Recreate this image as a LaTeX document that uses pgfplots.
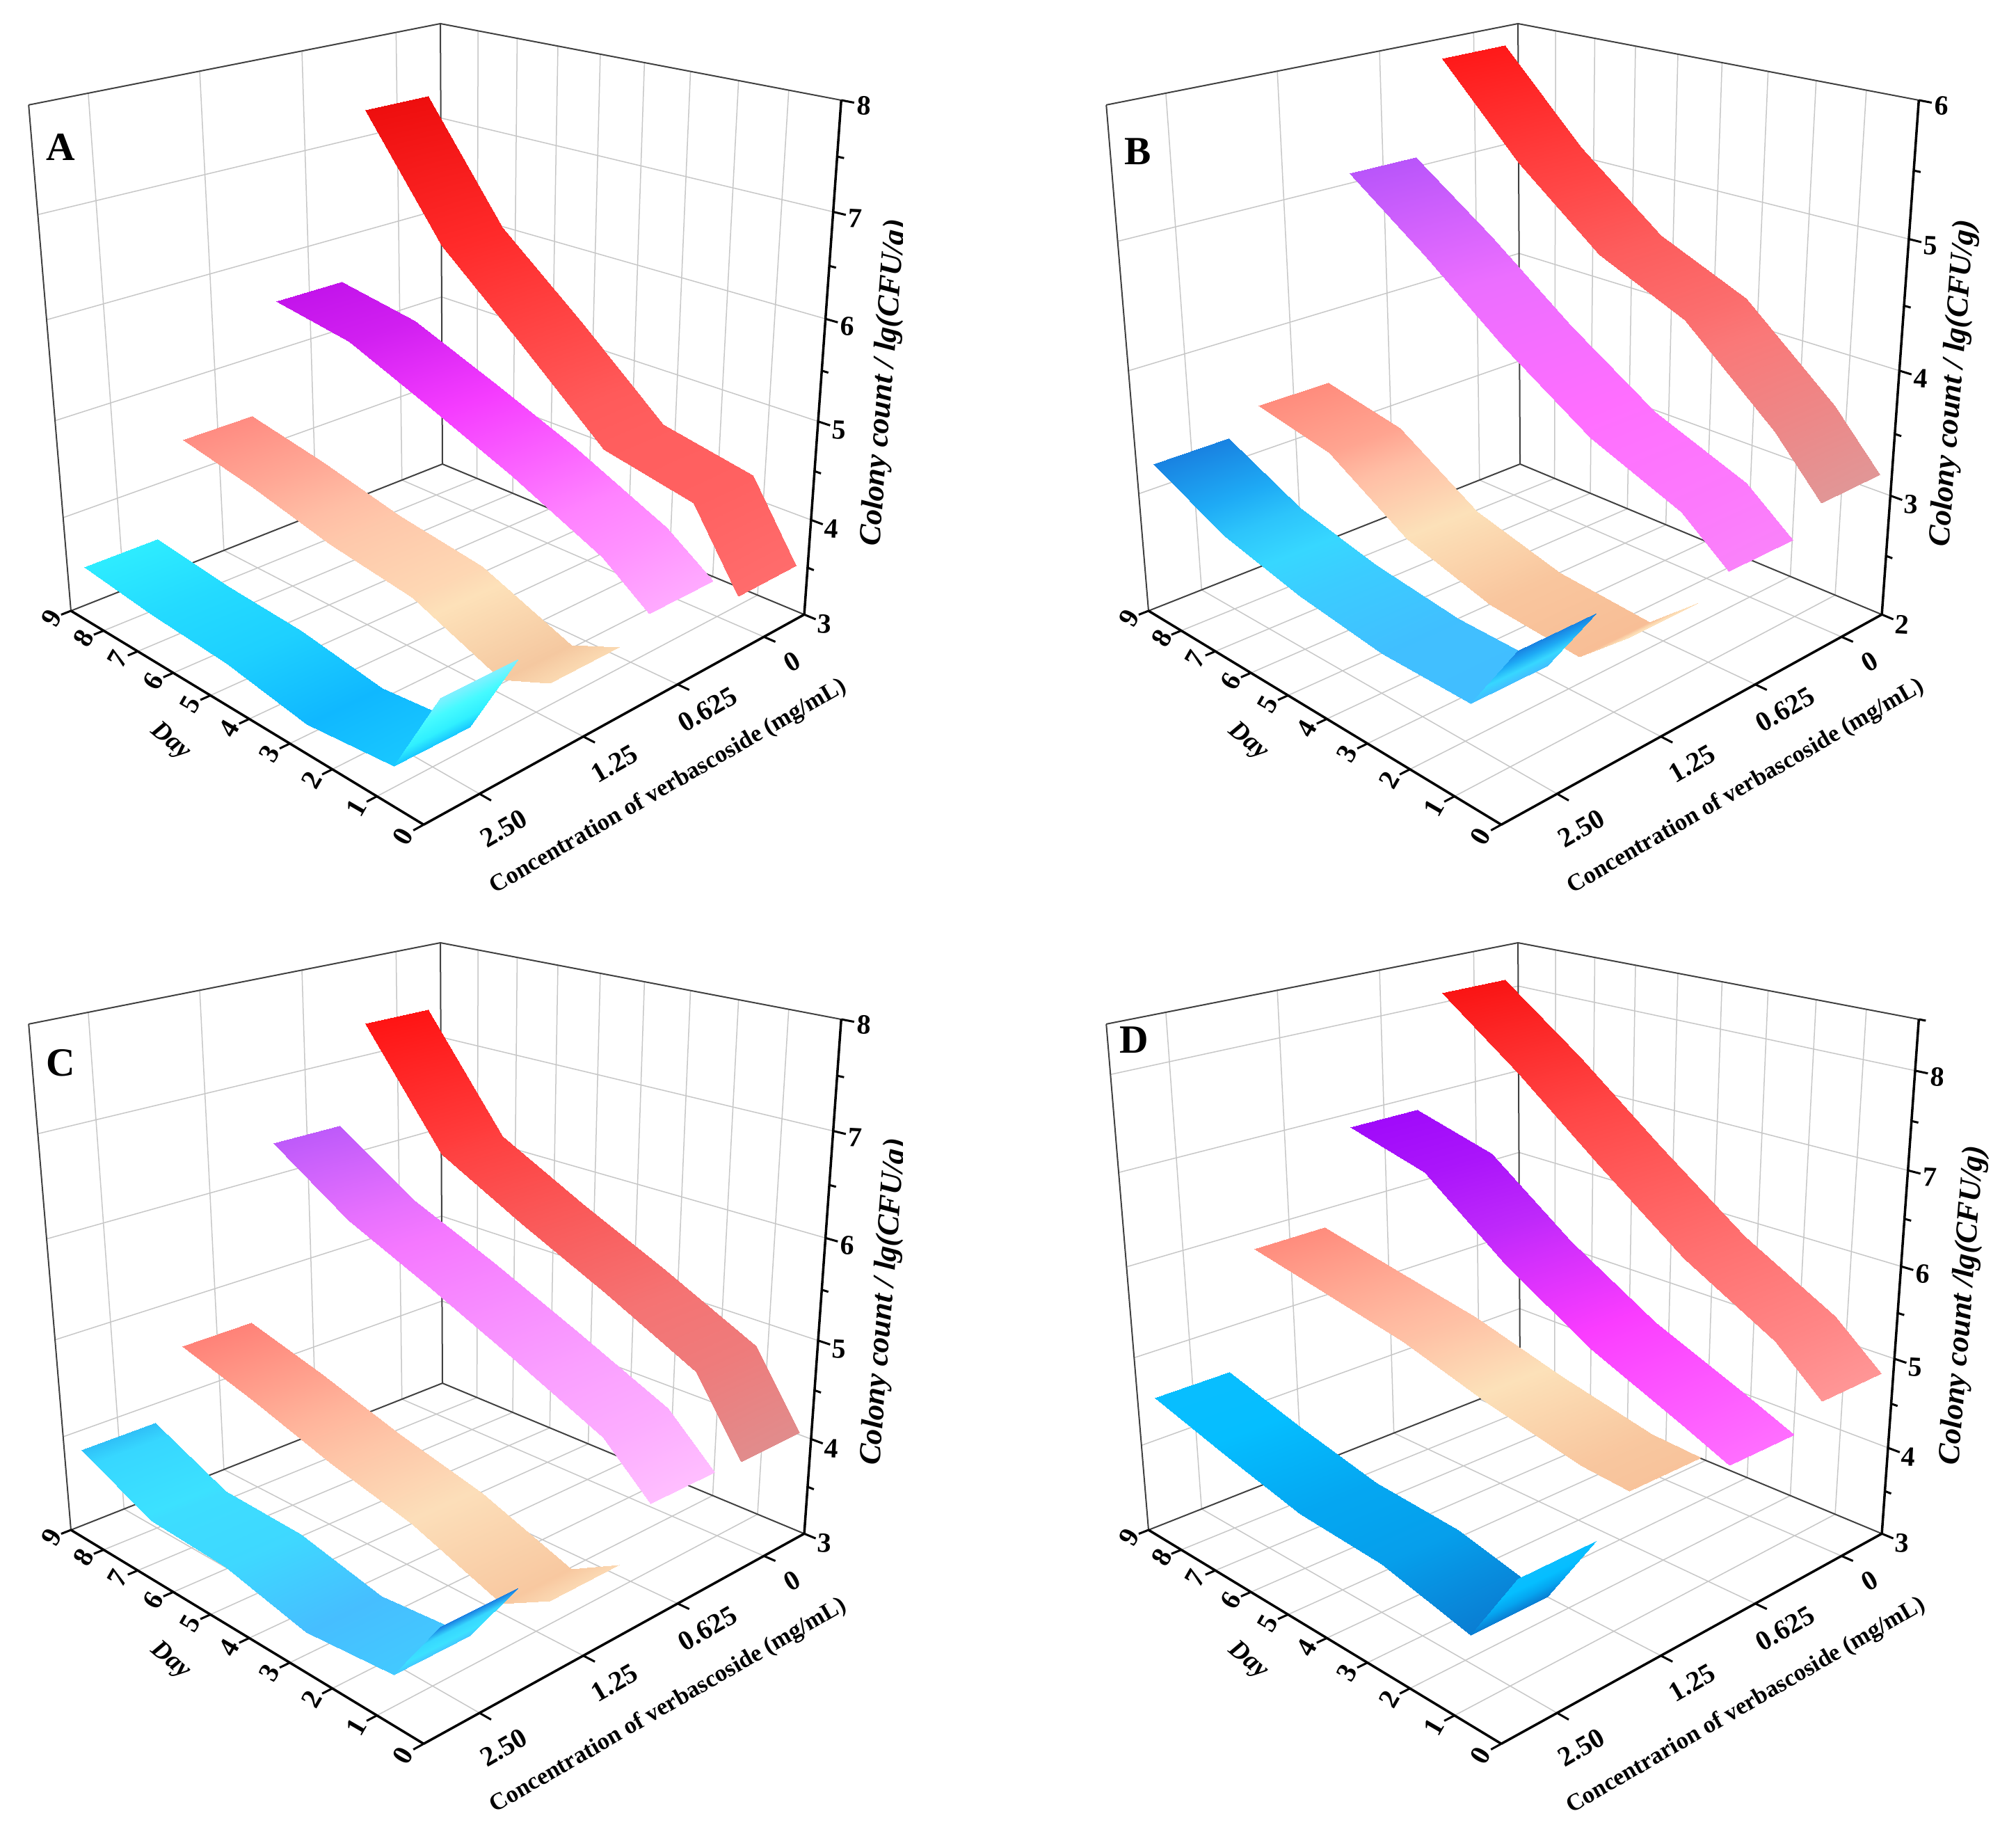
\documentclass[border=0pt]{standalone}
\usepackage{fontspec}
\setmainfont{Liberation Serif}
\usepackage{pgfplots}
\pgfplotsset{compat=1.18}

% one px of the reference = 0.2pt
\pgfplotsset{
  panel/.style n args={4}{hide axis, scale only axis, at={(0,0)}, anchor=south west,
    width=579.6pt, height=527pt, clip=false, y dir=reverse,
    xmin=#1, xmax=#2, ymin=#3, ymax=#4},
  gridl/.style={black!22, line width=0.3pt},
  backl/.style={black!75, line width=0.4pt},
  axisl/.style={black, line width=0.7pt},
  tickl/.style={black, line width=0.6pt},
}
\tikzset{
  tlab/.style={font=\fontsize{8}{9}\selectfont\bfseries},
  alab/.style={font=\fontsize{6.9}{8}\selectfont\bfseries},
  zlab/.style={font=\fontsize{8.9}{10}\selectfont\bfseries\itshape, rotate=85.5},
}

% segment of the frame in day, concentration position and height fraction
\newcommand\seg[7]{\addplot[#1] table[row sep=\\,
  x expr={prx(\thisrow{d},\thisrow{c},\thisrow{w})},
  y expr={pry(\thisrow{d},\thisrow{c},\thisrow{w})}]
  {d c w\\ #2 #3 #4\\ #5 #6 #7\\};}
% same at a height given in lg(CFU/g)
\newcommand\zseg[6]{\addplot[#1] table[row sep=\\,
  x expr={prx(\thisrow{d},\thisrow{c},wz(#2))},
  y expr={pry(\thisrow{d},\thisrow{c},wz(#2))}]
  {d c\\ #3 #4\\ #5 #6\\};}

% c, colormap stops (low to high), value on day 9 7 5 3 1 0
\newcommand\ribbon[8]{\addplot[surf, shader=interp, mesh/rows=6, mesh/cols=2, mesh/check=false,
    colormap={rib#1}{#2}, point meta=\thisrow{z}, point meta rel=per plot]
  table[row sep=\\,
    x expr={prx(\thisrow{d},#1+.348*\thisrow{s},wz(\thisrow{z}))},
    y expr={pry(\thisrow{d},#1+.348*\thisrow{s},wz(\thisrow{z}))}]
  {d s z\\ 9 -1 #3\\ 9 1 #3\\ 7 -1 #4\\ 7 1 #4\\ 5 -1 #5\\ 5 1 #5\\
   3 -1 #6\\ 3 1 #6\\ 1 -1 #7\\ 1 1 #7\\ 0 -1 #8\\ 0 1 #8\\};}

% walls, floor, grid
\newcommand\backframe[1]{%
  \pgfplotsinvokeforeach{1,...,8}{\seg{gridl}{##1}{-.5}{0}{##1}{3.5}{0}
    \seg{gridl}{##1}{-.5}{0}{##1}{-.5}{1}}
  \pgfplotsinvokeforeach{0,...,3}{\seg{gridl}{0}{##1}{0}{9}{##1}{0}
    \seg{gridl}{9}{##1}{0}{9}{##1}{1}}
  \pgfplotsinvokeforeach{#1}{\zseg{gridl}{##1}{9}{-.5}{9}{3.5}
    \zseg{gridl}{##1}{9}{-.5}{0}{-.5}}
  \seg{backl}{9}{-.5}{0}{9}{-.5}{1}
  \seg{backl}{9}{-.5}{0}{9}{3.5}{0}
  \seg{backl}{9}{-.5}{0}{0}{-.5}{0}
  \seg{backl}{9}{-.5}{1}{9}{3.5}{1}
  \seg{backl}{9}{-.5}{1}{0}{-.5}{1}
  \seg{backl}{9}{3.5}{0}{9}{3.5}{1}
}
% axes, ticks and their labels: z ticks, minor z ticks, the two labels
\newcommand\frontframe[4]{%
  \seg{axisl}{9}{3.5}{0}{0}{3.5}{0}
  \seg{axisl}{0}{3.5}{0}{0}{-.5}{0}
  \seg{axisl}{0}{-.5}{0}{0}{-.5}{1}
  \pgfplotsinvokeforeach{0,...,9}{\seg{tickl}{##1}{3.5}{0}{##1}{3.59}{0}
    \node[tlab, rotate=60, xshift=1.8pt, yshift=-1.2pt] at (axis cs:{prx(##1,3.74,0)},{pry(##1,3.74,0)}) {##1};}
  \pgfplotsinvokeforeach{0,...,3}{\seg{tickl}{0}{##1}{0}{-.24}{##1}{0}}
  \pgfplotsinvokeforeach{#1}{\zseg{tickl}{##1}{0}{-.5}{-.24}{-.5}
    \node[tlab, rotate=-3] at (axis cs:{prx(-.42,-.5,wz(##1))},{pry(-.42,-.5,wz(##1))+2}) {##1};}
  \pgfplotsinvokeforeach{#2}{\zseg{tickl}{##1}{0}{-.5}{-.13}{-.5}}
  \node[tlab, rotate=30] at (axis cs:1139,951) {0};
  \node[tlab, rotate=30] at (axis cs:1017,1020) {0.625};
  \node[tlab, rotate=30] at (axis cs:883,1098) {1.25};
  \node[tlab, rotate=30] at (axis cs:724,1191) {2.50};
  \node[font=\fontsize{7.5}{9}\selectfont\bfseries\itshape, rotate=-40] at (axis cs:245,1066) {Day};
  \node[alab, rotate=30] at (axis cs:961,1131) {#3};
  #4
}

\begin{document}
\begin{tikzpicture}[declare function={
    ud(\a)=(9-\a)/9; vc(\b)=(\b+.5)/4; wz(\e)=(\e-\zlo)/(\zhi-\zlo);
    den(\a,\b,\e)=1-.1561*ud(\a)-.1428*vc(\b)-.083*\e;
    prx(\a,\b,\e)=(636+339.6*ud(\a)-548.6*vc(\b)-55.5*\e)/den(\a,\b,\e);
    pry(\a,\b,\e)=(667+78.4*ud(\a)+85.6*vc(\b)-635.8*\e)/den(\a,\b,\e);}]
\path[use as bounding box] (0,0) rectangle (579.6pt,527pt);

% A
\def\zlo{3}\def\zhi{8}
\begin{axis}[panel={0}{2898}{0}{2635}]
  \backframe{4,5,6,7}
  \ribbon{0}{rgb255=(255,108,108) rgb255=(255,90,90) rgb255=(255,42,42) rgb255=(238,14,14)}{7.27}{6.07}{5.32}{4.53}{4.34}{3.59}
  \ribbon{1}{rgb255=(255,170,255) rgb255=(255,130,255) rgb255=(245,60,255) rgb255=(195,20,235)}{5.52}{5.37}{5.02}{4.65}{4.22}{3.88}
  \ribbon{2}{rgb255=(245,200,160) rgb255=(253,225,185) rgb255=(255,190,165) rgb255=(255,140,130)}{4.37}{4.21}{4.00}{3.87}{3.50}{3.70}
  \ribbon{3}{rgb255=(16,184,255) rgb255=(48,240,255) rgb255=(70,250,255) rgb255=(130,240,255)}{3.41}{3.31}{3.25}{3.11}{3.20}{4.08}
  \frontframe{3,...,8}{3.5,4.5,5.5,6.5,7.5}{Concentration of verbascoside (mg/mL)}{%
    \node[zlab] at (axis cs:1272,550) {Colony count / lg(CFU/g)};
    \fill[white] (axis cs:1298,290) rectangle (axis cs:1345,380);}
  \node[font=\fontsize{11.5}{13}\selectfont\bfseries] at (axis cs:87,212) {A};
\end{axis}

% B
\def\zlo{2}\def\zhi{6}
\begin{axis}[panel={-1549}{1349}{0}{2635}]
  \backframe{3,4,5}
  \ribbon{0}{rgb255=(225,150,150) rgb255=(250,120,120) rgb255=(255,70,70) rgb255=(255,25,25)}{5.84}{5.14}{4.58}{4.27}{3.64}{3.22}
  \ribbon{1}{rgb255=(250,130,250) rgb255=(255,110,255) rgb255=(235,110,255) rgb255=(185,85,250)}{5.08}{4.60}{4.08}{3.62}{3.33}{3.03}
  \ribbon{2}{rgb255=(248,190,150) rgb255=(252,225,185) rgb255=(255,190,165) rgb255=(255,140,125)}{3.39}{3.26}{2.84}{2.64}{2.58}{2.90}
  \ribbon{3}{rgb255=(65,190,255) rgb255=(55,215,255) rgb255=(30,170,245) rgb255=(25,130,225)}{3.20}{2.90}{2.74}{2.64}{2.63}{3.20}
  \frontframe{2,...,6}{2.5,3.5,4.5,5.5}{Concentration of verbascoside (mg/mL)}{%
    \node[zlab] at (axis cs:1260,551) {Colony count / lg(CFU/g)};}
  \node[font=\fontsize{11.5}{13}\selectfont\bfseries] at (axis cs:87,218) {B};
\end{axis}

% C
\def\zlo{3}\def\zhi{8}
\begin{axis}[panel={0}{2898}{-1321}{1314}]
  \backframe{4,5,6,7}
  \ribbon{0}{rgb255=(225,140,140) rgb255=(245,115,115) rgb255=(255,60,60) rgb255=(255,20,20)}{7.33}{6.18}{5.72}{5.30}{4.84}{4.13}
  \ribbon{1}{rgb255=(255,190,255) rgb255=(250,160,255) rgb255=(245,120,255) rgb255=(190,90,250)}{6.33}{5.79}{5.42}{5.02}{4.60}{4.16}
  \ribbon{2}{rgb255=(248,200,160) rgb255=(252,222,185) rgb255=(255,180,155) rgb255=(255,130,120)}{4.51}{4.28}{4.01}{3.79}{3.45}{3.71}
  \ribbon{3}{rgb255=(70,190,255) rgb255=(60,225,255) rgb255=(55,215,255) rgb255=(25,125,225)}{3.80}{3.45}{3.41}{3.22}{3.30}{3.99}
  \frontframe{3,...,8}{3.5,4.5,5.5,6.5,7.5}{Concentration of verbascoside (mg/mL)}{%
    \node[zlab] at (axis cs:1272,550) {Colony count / lg(CFU/g)};
    \fill[white] (axis cs:1298,290) rectangle (axis cs:1345,380);}
  \node[font=\fontsize{11.5}{13}\selectfont\bfseries] at (axis cs:87,207) {C};
\end{axis}

% D
\def\zlo{3}\def\zhi{8.5}
\begin{axis}[panel={-1549}{1349}{-1321}{1314}]
  \backframe{4,5,6,7,8}
  \ribbon{0}{rgb255=(255,150,150) rgb255=(255,110,110) rgb255=(255,70,70) rgb255=(250,20,20)}{8.11}{7.41}{6.64}{5.91}{5.35}{4.90}
  \ribbon{1}{rgb255=(255,110,255) rgb255=(250,60,255) rgb255=(190,40,250) rgb255=(160,10,250)}{6.85}{6.60}{5.90}{5.32}{4.90}{4.68}
  \ribbon{2}{rgb255=(248,195,155) rgb255=(252,225,185) rgb255=(255,185,160) rgb255=(255,140,125)}{5.79}{5.61}{5.43}{5.16}{4.94}{4.90}
  \ribbon{3}{rgb255=(10,125,210) rgb255=(5,165,240) rgb255=(5,190,255) rgb255=(10,190,255)}{4.48}{4.24}{4.03}{3.97}{3.74}{4.56}
  \frontframe{3,...,8}{3.5,4.5,5.5,6.5,7.5,8.5}{Concentrarion of verbascoside (mg/mL)}{%
    \node[zlab] at (axis cs:1274,555) {Colony count /lg(CFU/g)};}
  \node[font=\fontsize{11.5}{13}\selectfont\bfseries] at (axis cs:81,174) {D};
\end{axis}
\end{tikzpicture}
\end{document}
